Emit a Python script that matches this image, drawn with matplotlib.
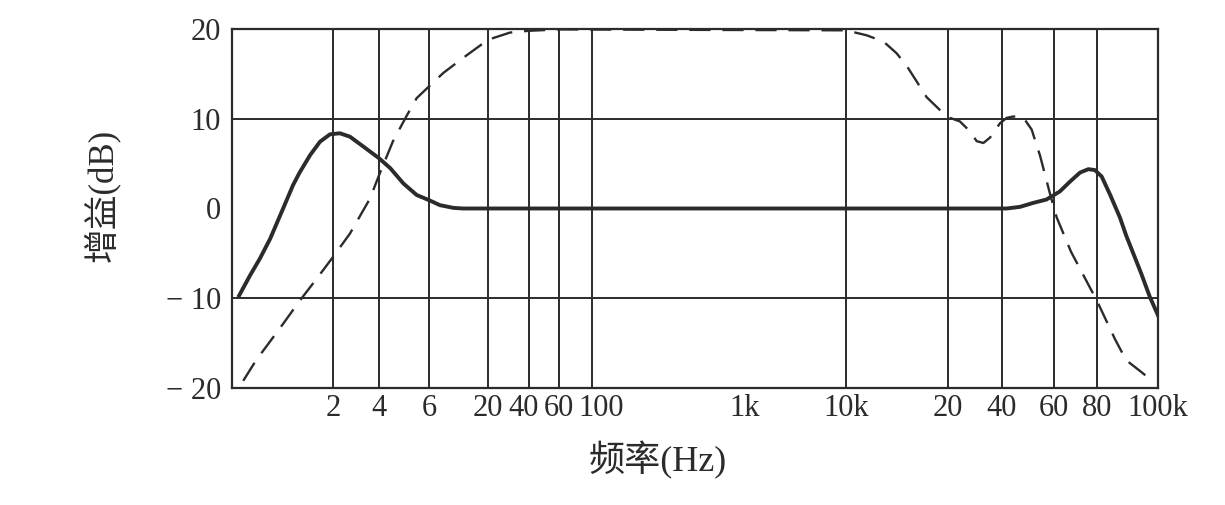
import numpy as np
import matplotlib
matplotlib.use("Agg")
import matplotlib.pyplot as plt
from matplotlib.transforms import ScaledTranslation

plt.rcParams['font.family'] = ['Liberation Serif', 'Noto Sans CJK SC', 'DejaVu Sans']

# hand-drawn frequency axis: tick frequencies and where they sit (axis units)
scale_freq = [1, 2, 4, 6, 20, 40, 60, 100, 1e3, 1e4, 2e4, 4e4, 6e4, 8e4, 1e5]
scale_pos = [0, 101, 147, 197, 256, 297, 327, 360, 513, 614, 716, 770, 822, 865, 926]

tick_freq = [2, 4, 6, 20, 40, 60, 100, 1e3, 1e4, 2e4, 4e4, 6e4, 8e4, 1e5]
tick_labels = ['2', '4', '6', '20', '40', '60', '100', '1k', '10k', '20', '40', '60', '80', '100k']
grid_freq = [2, 4, 6, 20, 40, 60, 100, 1e4, 2e4, 4e4, 6e4, 8e4]

y_ticks = [-20, -10, 0, 10, 20]
y_labels = ['− 20', '− 10', '0', '10', '20']

# solid curve
solid_f = [1.05, 1.13, 1.21, 1.30, 1.42, 1.52, 1.59, 1.71, 1.83, 1.96, 2.22, 2.58, 3.16,
           4.0, 4.38, 4.87, 5.43, 6.0, 7.5, 9.85, 12, 1000, 41500, 46000, 51000, 56600,
           62400, 66800, 71400, 75500, 78900, 81400, 83900, 87000, 89000, 94000, 97000,
           100000]
solid_db = [-9.7, -7.5, -5.6, -3.35, 0.0, 2.6, 4.0, 5.96, 7.45, 8.27, 8.38, 8.0, 6.9,
            5.6, 4.5, 2.8, 1.5, 0.93, 0.37, 0.07, 0.0, 0.0, 0.0, 0.18, 0.62, 1.0,
            1.9, 3.0, 4.0, 4.38, 4.28, 3.55, 1.56, -1.0, -3.0, -7.2, -9.8, -11.9]

# dashed curve
dash_f = [1.08, 1.18, 1.27, 1.42, 1.59, 1.79, 2.0, 2.58, 3.49, 4.0, 4.48, 5.02, 5.43, 6.0,
          8.03, 12.1, 20, 29, 40, 60, 1e4, 11500, 12900, 14100, 15100, 16200, 17300,
          18900, 20500, 23300, 26500, 28900, 31500, 34300, 39000, 41500, 43700, 47200,
          50400, 53800, 58200, 61100, 67200, 80000, 85500, 89000, 94000, 97900]
dash_db = [-19.2, -16.9, -15.3, -12.85, -10.3, -7.8, -5.4, -2.8, 1.1, 3.7, 7.5, 10.4, 12.3,
           13.6, 15.1, 16.8, 18.8, 19.6, 19.8, 19.95, 19.85, 19.3, 18.6, 17.3, 15.9, 14.1,
           12.4, 11.0, 10.1, 9.7, 8.6, 7.5, 7.3, 7.9, 9.5, 10.1, 10.25, 10.15, 8.8, 5.9,
           1.6, -1.0, -4.8, -10.3, -14.6, -16.9, -18.2, -19.2]

log_f = np.log10(scale_freq)


def fwd(f):
    f = np.clip(np.asarray(f, dtype=float), 1e-3, None)
    return np.interp(np.log10(f), log_f, scale_pos)


def inv(p):
    return 10 ** np.interp(np.asarray(p, dtype=float), scale_pos, log_f)


ink = '#2b2b2b'
fig = plt.figure(figsize=(12.25, 5.05), dpi=100)
ax = fig.add_axes([0.1894, 0.2317, 0.7559, 0.7109])
ax.set_xscale('function', functions=(fwd, inv))
ax.set_xlim(1, 1e5)
ax.set_ylim(-20, 20)

for g in grid_freq:
    ax.axvline(g, color=ink, lw=1.4, zorder=1)
for g in [-10, 10]:
    ax.axhline(g, color=ink, lw=1.4, zorder=1)

ax.plot(solid_f, solid_db, color=ink, lw=2.8, solid_joinstyle='round', zorder=3)
ax.plot(dash_f, dash_db, color=ink, lw=1.7, dashes=(9, 5), zorder=3)

ax.set_xticks(tick_freq)
ax.set_xticklabels(tick_labels)
ax.xaxis.set_minor_locator(matplotlib.ticker.NullLocator())
ax.set_yticks(y_ticks)
ax.set_yticklabels(y_labels)
ax.tick_params(axis='both', length=0, labelsize=22, colors=ink)
ax.tick_params(axis='x', pad=4)
ax.tick_params(axis='y', pad=8)

# the crowded 40 / 60 / 100 labels are nudged apart, as in the original
for lab, dx in zip(ax.get_xticklabels()[4:7], [-5, 0, 9]):
    lab.set_transform(lab.get_transform() + ScaledTranslation(dx / 100, 0, fig.dpi_scale_trans))

for s in ax.spines.values():
    s.set_color(ink)
    s.set_linewidth(1.6)

fig.text(102 / 1225, 1 - 195 / 505, '增益(dB)', rotation=90, ha='center', va='center',
         fontsize=25, color=ink)
fig.text(658 / 1225, 1 - 460 / 505, '频率(Hz)', ha='center', va='center',
         fontsize=26, color=ink)

fig.savefig('out.png', dpi=100, facecolor='white')
